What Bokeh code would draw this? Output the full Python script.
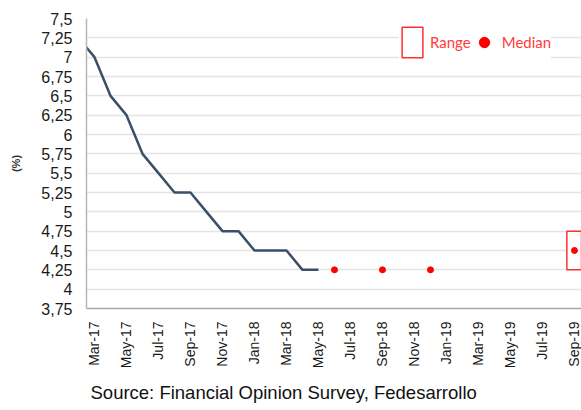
from math import pi
from bokeh.plotting import figure
from bokeh.models import (Range1d, FixedTicker, CustomJSTickFormatter, Legend, LegendItem,
                          Title, ColumnDataSource)
from bokeh.embed import file_html
from bokeh.resources import INLINE

# ---------------- data ----------------
MONTHS = ["Jan", "Feb", "Mar", "Apr", "May", "Jun", "Jul", "Aug", "Sep", "Oct", "Nov", "Dec"]

actual_months = ["Feb-17", "Mar-17", "Apr-17", "May-17", "Jun-17", "Jul-17", "Aug-17", "Sep-17",
                 "Oct-17", "Nov-17", "Dec-17", "Jan-18", "Feb-18", "Mar-18", "Apr-18", "May-18"]
actual_rate = [7.25, 7.0, 6.5, 6.25, 5.75, 5.5, 5.25, 5.25,
               5.0, 4.75, 4.75, 4.5, 4.5, 4.5, 4.25, 4.25]

median_months = ["Jun-18", "Sep-18", "Dec-18", "Sep-19"]
median_rate = [4.25, 4.25, 4.25, 4.5]

range_months = ["Sep-19"]
range_low = [4.25]
range_high = [4.75]

x_tick_labels = ["Mar-17", "May-17", "Jul-17", "Sep-17", "Nov-17", "Jan-18", "Mar-18", "May-18",
                 "Jul-18", "Sep-18", "Nov-18", "Jan-19", "Mar-19", "May-19", "Jul-19", "Sep-19"]
y_ticks = [3.75, 4.0, 4.25, 4.5, 4.75, 5.0, 5.25, 5.5, 5.75, 6.0, 6.25, 6.5, 6.75, 7.0, 7.25, 7.5]


def mpos(label):
    mon, yy = label.split("-")
    return (int(yy) - 17) * 12 + MONTHS.index(mon) - 2


FONT = "Liberation Sans"

p = figure(width=581, height=410, output_backend="svg", toolbar_location=None,
           x_range=Range1d(-0.5, 30.44), y_range=Range1d(3.75, 7.5),
           min_border_left=86, min_border_right=0, min_border_top=18, min_border_bottom=99)
p.outline_line_color = None
p.background_fill_color = "white"

# gridlines
p.xgrid.visible = False
p.ygrid.grid_line_color = "#e4e4e4"
p.ygrid.grid_line_width = 1.5

# axes
p.yaxis.ticker = FixedTicker(ticks=y_ticks)
p.yaxis.formatter = CustomJSTickFormatter(code="return String(tick).replace('.', ',')")
p.xaxis.ticker = FixedTicker(ticks=[mpos(l) for l in x_tick_labels])
p.xaxis.formatter = CustomJSTickFormatter(
    args=dict(labels=x_tick_labels, pos=[mpos(l) for l in x_tick_labels]),
    code="const i = pos.indexOf(tick); return i >= 0 ? labels[i] : ''")
p.xaxis.major_label_orientation = pi / 2
for ax in (p.xaxis, p.yaxis):
    ax.major_tick_line_color = None
    ax.minor_tick_line_color = None
    ax.major_label_text_font = FONT
    ax.major_label_text_color = "#1a1a1a"
    ax.axis_line_width = 1.5
p.xaxis.major_label_text_font_size = "14px"
p.yaxis.major_label_text_font_size = "16px"
p.xaxis.axis_line_color = "#a6a6a6"
p.yaxis.axis_line_color = "#b8b8b8"
p.xaxis.major_label_standoff = 7
p.yaxis.major_label_standoff = 8

# (%) axis label
p.yaxis.axis_label = "(%)"
p.yaxis.axis_label_text_font = FONT
p.yaxis.axis_label_text_font_size = "11px"
p.yaxis.axis_label_text_font_style = "bold"
p.yaxis.axis_label_text_color = "#333333"
p.yaxis.axis_label_standoff = 16

# glyphs
line_src = ColumnDataSource(dict(x=[mpos(m) for m in actual_months], y=actual_rate))
p.line("x", "y", source=line_src, line_color="#3b5068", line_width=2.5)

box_src = ColumnDataSource(dict(x=[mpos(m) for m in range_months], top=range_high, bottom=range_low))
box_r = p.vbar(x="x", top="top", bottom="bottom", width=0.95, source=box_src,
               fill_color="white", line_color="#ff3030", line_width=1.5)

med_src = ColumnDataSource(dict(x=[mpos(m) for m in median_months], y=median_rate))
med_r = p.scatter("x", "y", source=med_src, size=6, fill_color="#ff0000", line_color="#ff0000")

legend = Legend(items=[LegendItem(label="Range", renderers=[box_r]),
                       LegendItem(label="Median", renderers=[med_r])],
                orientation="horizontal", location=(313, 247),
                glyph_width=26, glyph_height=38, label_standoff=5, spacing=0, padding=3,
                border_line_color=None, background_fill_color="white", background_fill_alpha=1,
                label_text_color="#ff3b3b", label_text_font="Lato",
                label_text_font_size="15px")
p.add_layout(legend)

src_title = Title(text="Source: Financial Opinion Survey, Fedesarrollo", align="left",
                  text_font=FONT, text_font_size="18.5px", text_font_style="normal",
                  text_color="#111111", offset=4)
src_title.standoff = 16
p.add_layout(src_title, "below")

open("out.html", "w").write(file_html(p, INLINE))
